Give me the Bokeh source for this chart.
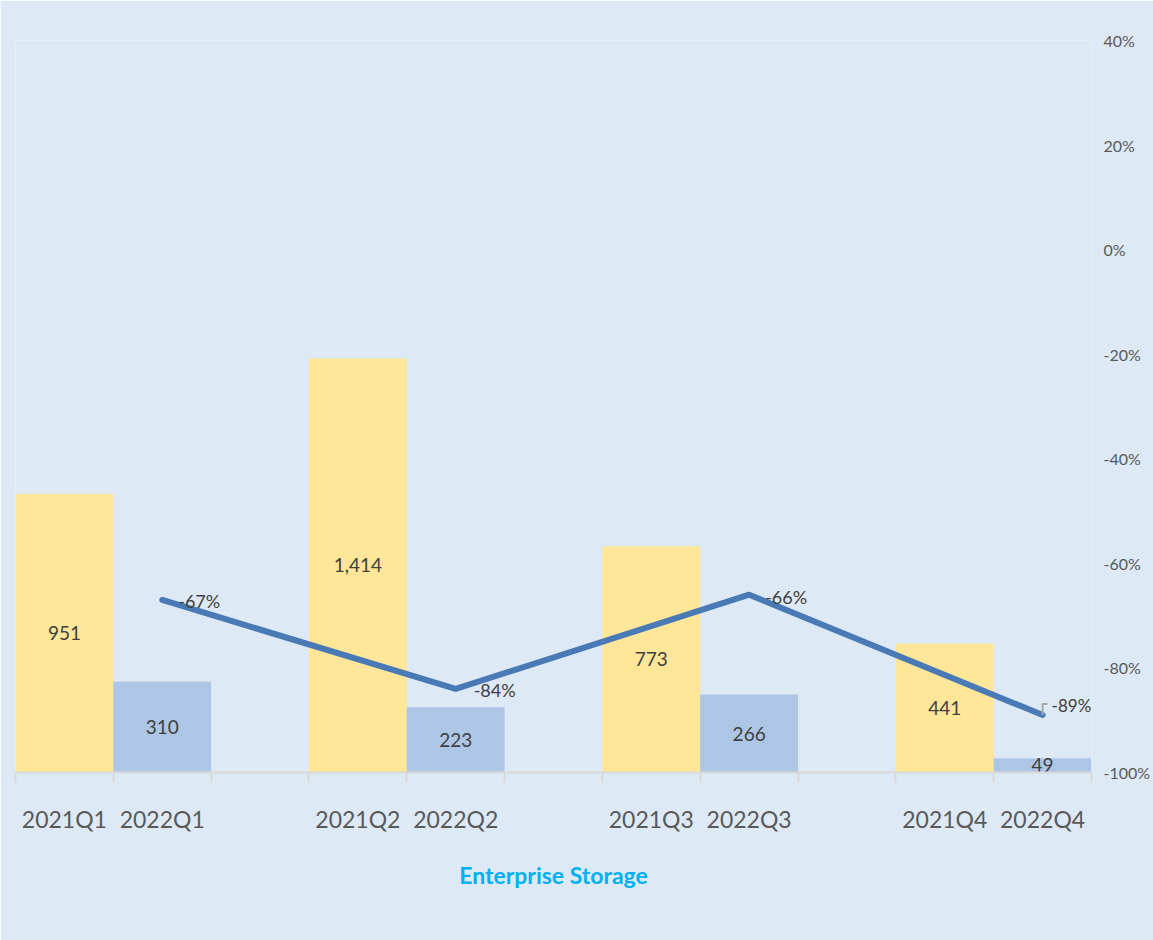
from bokeh.plotting import figure
from bokeh.models import Range1d, LinearAxis, FixedTicker, PrintfTickFormatter, Label
from bokeh.core.properties import value
from bokeh.embed import file_html
from bokeh.resources import INLINE

# ---- data ----
labels_2021 = ["2021Q1", "2021Q2", "2021Q3", "2021Q4"]
labels_2022 = ["2022Q1", "2022Q2", "2022Q3", "2022Q4"]
values_2021 = [951, 1414, 773, 441]
values_2022 = [310, 223, 266, 49]
yoy_pct = [-67, -84, -66, -89]
pct_ticks = [-100, -80, -60, -40, -20, 0, 20, 40]
chart_title = "Enterprise Storage"

# ---- style ----
FONT = "Lato"
BG = "#dde9f5"
YELLOW = "#ffe699"
BLUE = "#adc6e6"
LINE = "#4a7ab5"
AXIS = "#d9d9d9"
TXT = "#404040"
label_dx = [16, 18, 16, 9]
label_dy = [-1, -1, -2, 9]
label_size = ["18px", "18px", "18px", "17px"]

n = len(values_2021)
x21 = [3 * i + 0.5 for i in range(n)]
x22 = [3 * i + 1.5 for i in range(n)]
slots = 3 * n - 1

p = figure(width=1153, height=940, x_range=Range1d(0, slots), y_range=Range1d(0, 2500),
           output_backend="svg", toolbar_location=None,
           min_border_left=15, min_border_right=59, min_border_top=40, min_border_bottom=168,
           background_fill_color=BG, border_fill_color=BG, outline_line_color=None)
p.xgrid.visible = False
p.ygrid.visible = False
p.yaxis.visible = False

p.extra_y_ranges = {"pct": Range1d(-100, 40)}

p.vbar(x=x21, top=values_2021, bottom=0, width=1, fill_color=YELLOW, line_color=None)
p.vbar(x=x22, top=values_2022, bottom=0, width=1, fill_color=BLUE, line_color=None)

p.text(x=x21 + x22, y=[v / 2 for v in values_2021 + values_2022],
       text=[f"{v:,}" for v in values_2021 + values_2022],
       text_align="center", text_baseline="middle", text_font=value(FONT),
       text_font_size="19px", text_color=TXT)

p.line(x=x22, y=yoy_pct, y_range_name="pct", line_width=6, line_color=LINE,
       line_cap="round", line_join="round")

# leader line for the last label
lx = x22[-1]
lv = yoy_pct[-1]
p.line(x=[lx, lx, lx + 0.05], y=[lv, lv + 2.1, lv + 2.1], y_range_name="pct",
       line_color="#a6a6a6", line_width=2)

for xv, yv, dx, dy, fs in zip(x22, yoy_pct, label_dx, label_dy, label_size):
    p.add_layout(Label(x=xv, y=yv, text=f"{yv}%", y_range_name="pct",
                       x_offset=dx, y_offset=dy, text_align="left", text_baseline="middle",
                       text_font=FONT, text_font_size=fs, text_color=TXT))

# right percentage axis
ra = LinearAxis(y_range_name="pct", ticker=FixedTicker(ticks=pct_ticks),
                formatter=PrintfTickFormatter(format="%d%%"))
ra.axis_line_color = None
ra.major_tick_line_color = None
ra.minor_tick_line_color = None
ra.major_tick_out = 0
ra.minor_tick_out = 0
ra.major_label_text_font = FONT
ra.major_label_text_font_size = "16px"
ra.major_label_text_color = "#595959"
ra.major_label_standoff = 12
p.add_layout(ra, "right")

# bottom category axis
xa = p.xaxis[0]
xa.ticker = FixedTicker(ticks=sorted(x21 + x22), minor_ticks=list(range(slots + 1)))
xa.major_label_overrides = {**dict(zip(x21, labels_2021)), **dict(zip(x22, labels_2022))}
xa.axis_line_color = AXIS
xa.axis_line_width = 2
xa.major_tick_out = 0
xa.major_tick_in = 0
xa.major_tick_line_color = None
xa.minor_tick_out = 10
xa.minor_tick_in = 0
xa.minor_tick_line_color = AXIS
xa.minor_tick_line_width = 2
xa.major_label_text_font = FONT
xa.major_label_text_font_size = "23px"
xa.major_label_text_color = "#595959"
xa.major_label_standoff = 22
xa.axis_label = chart_title
xa.axis_label_text_font = FONT
xa.axis_label_text_font_style = "bold"
xa.axis_label_text_font_size = "23px"
xa.axis_label_text_color = "#00b0f0"
xa.axis_label_standoff = 25

open("out.html", "w").write(file_html(p, INLINE))
